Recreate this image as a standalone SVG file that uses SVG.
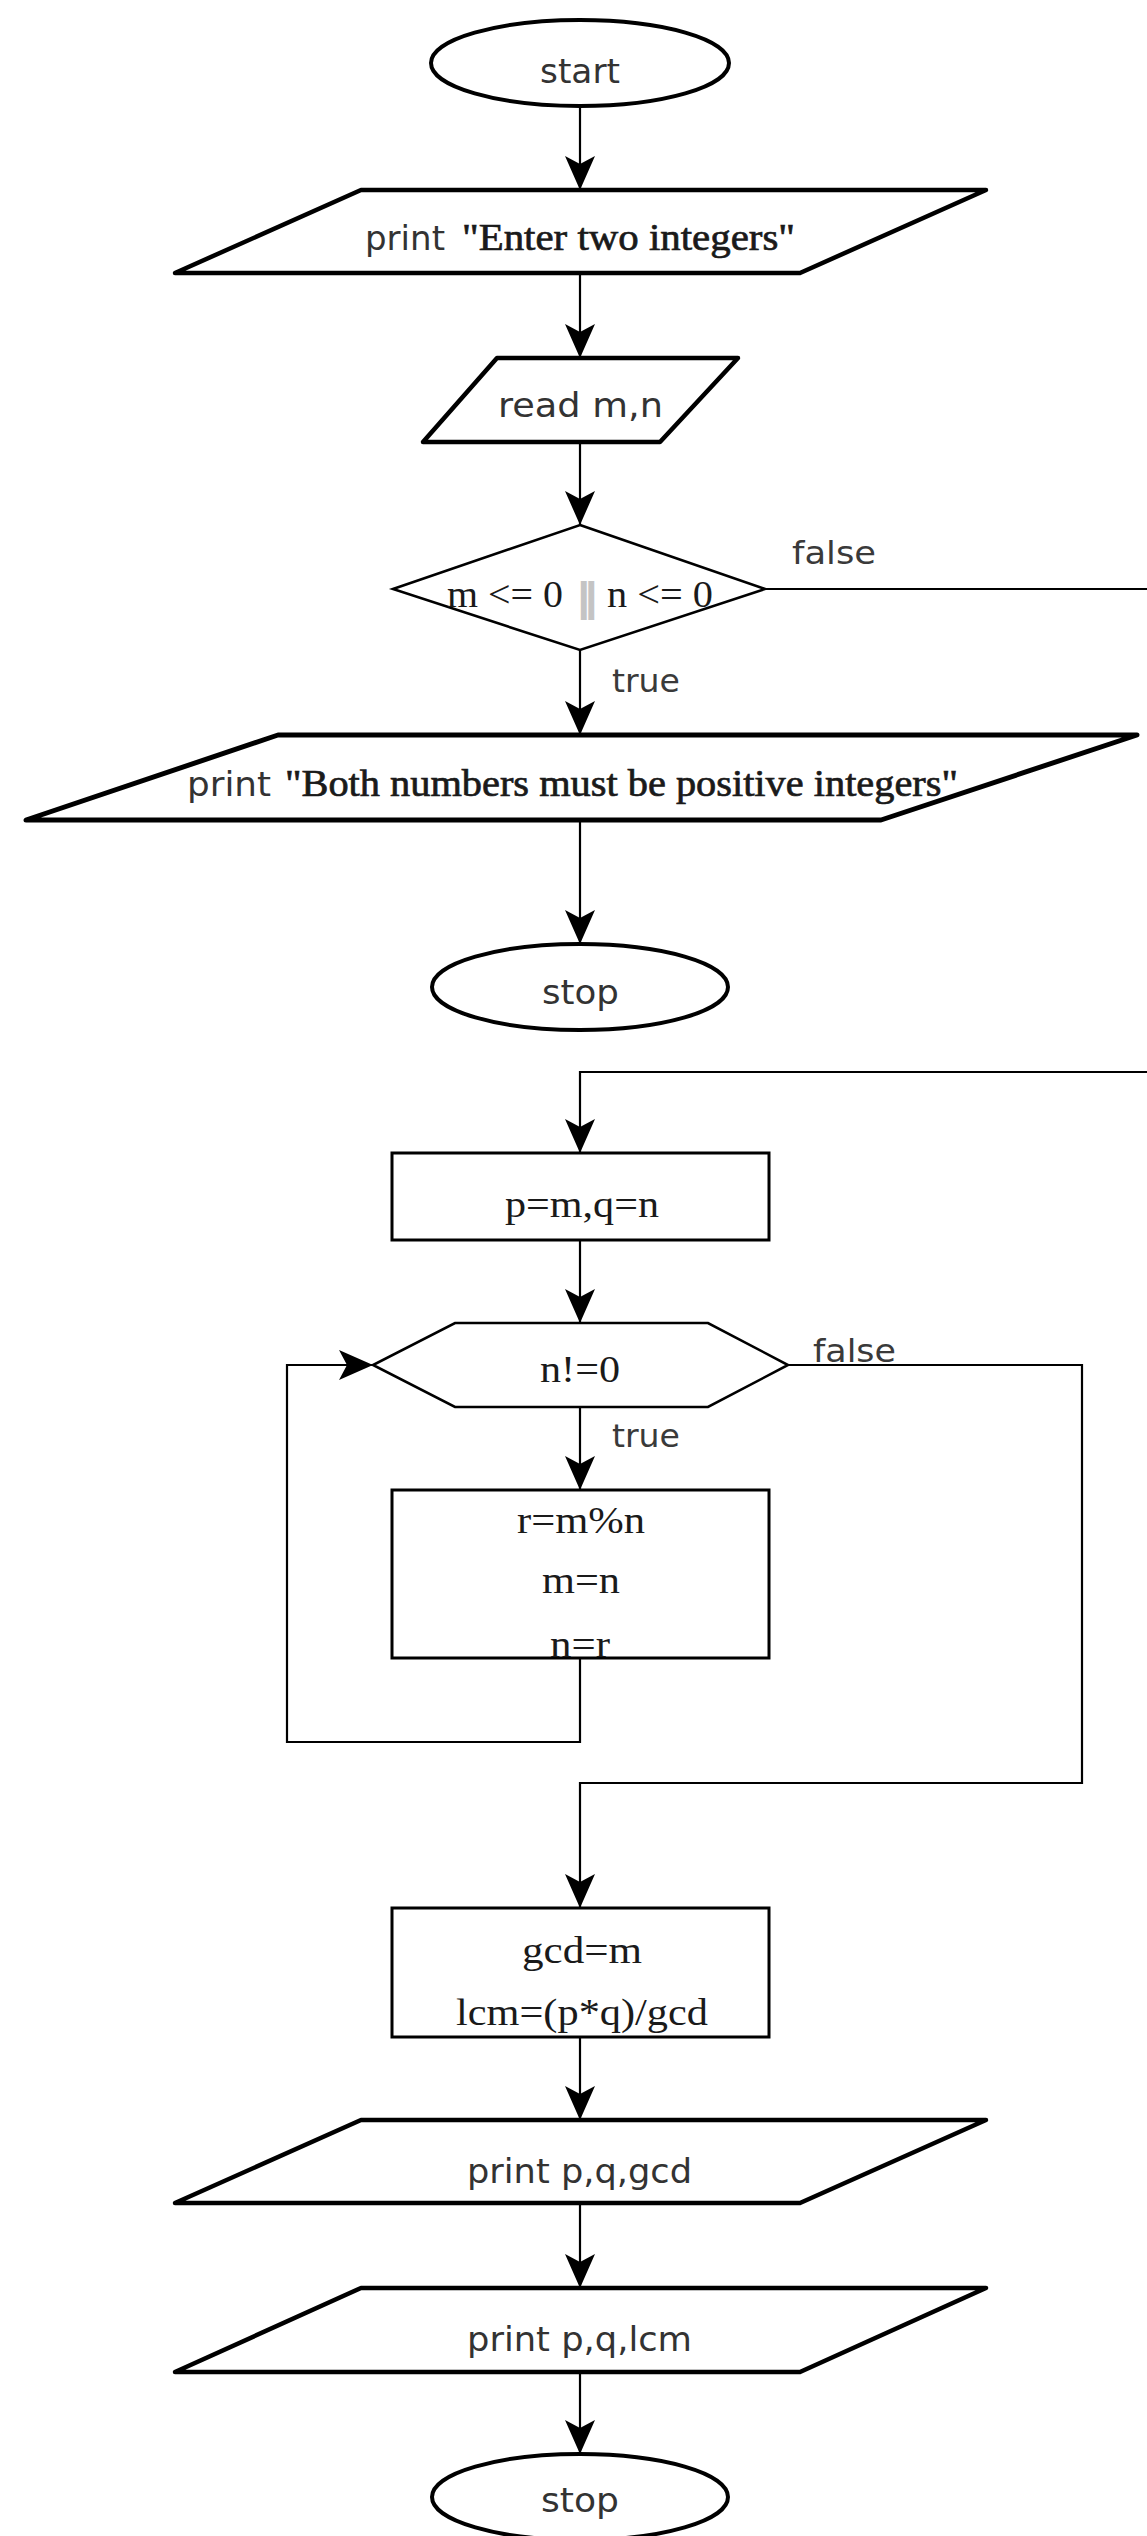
<svg xmlns="http://www.w3.org/2000/svg" width="1147" height="2536" viewBox="0 0 1147 2536">
  <style>
    .shape { fill: #fff; stroke: #000; }
    .term { stroke-width: 4; }
    .para { stroke-width: 4.5; stroke-linejoin: round; }
    .para-wide { stroke-width: 5; stroke-linejoin: round; }
    .box { stroke-width: 3; }
    .dec { stroke-width: 2.6; stroke-linejoin: miter; }
    .conn { fill: none; stroke: #000; stroke-width: 2.2; }
    .sans { font-family: "DejaVu Sans", "Liberation Sans", sans-serif; font-size: 34px; fill: #333; }
    .serif { font-family: "Liberation Serif", "DejaVu Serif", serif; font-size: 38px; fill: #1a1a1a; }
    .heavy { stroke: #1a1a1a; stroke-width: 0.7; }
    .lbl { font-family: "DejaVu Sans", "Liberation Sans", sans-serif; font-size: 32px; fill: #3a3a3a; }
    .bar { font-family: "Liberation Serif", serif; font-size: 38px; fill: #c4c4c4; stroke: #c4c4c4; stroke-width: 4; }
  </style>
  <defs>
    <marker id="arrow" viewBox="0 0 34 30" refX="34" refY="15" markerWidth="34" markerHeight="30" markerUnits="userSpaceOnUse" orient="auto">
      <path d="M0,0 L34,15 L0,30 L8,15 Z" fill="#000"/>
    </marker>
  </defs>

  <rect width="1147" height="2536" fill="#fff"/>

  <!-- connectors -->
  <g id="connectors">
    <path class="conn" d="M580,106 V190" marker-end="url(#arrow)"/>
    <path class="conn" d="M580,273 V358" marker-end="url(#arrow)"/>
    <path class="conn" d="M580,442 V525" marker-end="url(#arrow)"/>
    <path class="conn" d="M580,650 V735" marker-end="url(#arrow)"/>
    <path class="conn" d="M580,820 V944" marker-end="url(#arrow)"/>
    <path class="conn" d="M765,589 H1170 V1072 H580 V1153" marker-end="url(#arrow)"/>
    <path class="conn" d="M580,1240 V1323" marker-end="url(#arrow)"/>
    <path class="conn" d="M580,1407 V1490" marker-end="url(#arrow)"/>
    <path class="conn" d="M580,1658 V1742 H287 V1365 H373" marker-end="url(#arrow)"/>
    <path class="conn" d="M788,1365 H1082 V1783 H580 V1908" marker-end="url(#arrow)"/>
    <path class="conn" d="M580,2037 V2120" marker-end="url(#arrow)"/>
    <path class="conn" d="M580,2203 V2288" marker-end="url(#arrow)"/>
    <path class="conn" d="M580,2372 V2454" marker-end="url(#arrow)"/>
    <text class="lbl" x="792" y="564" textLength="84" lengthAdjust="spacingAndGlyphs">false</text>
    <text class="lbl" x="612" y="692" textLength="68" lengthAdjust="spacingAndGlyphs">true</text>
    <text class="lbl" x="813" y="1362" textLength="83" lengthAdjust="spacingAndGlyphs">false</text>
    <text class="lbl" x="612" y="1447" textLength="68" lengthAdjust="spacingAndGlyphs">true</text>
  </g>

  <!-- start terminal -->
  <g id="start">
    <ellipse class="shape term" cx="580" cy="63" rx="149" ry="43"/>
    <text class="sans" x="540" y="83" textLength="80" lengthAdjust="spacingAndGlyphs">start</text>
  </g>

  <!-- prompt output -->
  <g id="print-prompt">
    <polygon class="shape para" points="361,190 986,190 800,273 175,273"/>
    <text class="sans" x="365" y="250" textLength="80" lengthAdjust="spacingAndGlyphs">print</text>
    <text class="serif heavy" x="462" y="250" font-size="36" textLength="333" lengthAdjust="spacingAndGlyphs">"Enter two integers"</text>
  </g>

  <!-- input -->
  <g id="read-input">
    <polygon class="shape para" points="497,358 738,358 660,442 423,442"/>
    <text class="sans" x="498" y="417" textLength="165" lengthAdjust="spacingAndGlyphs">read m,n</text>
  </g>

  <!-- validity check -->
  <g id="check-positive">
    <polygon class="shape dec" points="580,525 765,589 580,650 393,589"/>
    <text class="serif" x="447" y="607" font-size="37" textLength="116" lengthAdjust="spacingAndGlyphs">m &lt;= 0</text>
    <text class="bar" x="580" y="610" textLength="15" lengthAdjust="spacingAndGlyphs">||</text>
    <text class="serif" x="607" y="607" font-size="37" textLength="106" lengthAdjust="spacingAndGlyphs">n &lt;= 0</text>
  </g>

  <!-- error output -->
  <g id="print-error">
    <polygon class="shape para-wide" points="278,735 1137,735 881,820 26,820"/>
    <text class="sans" x="187" y="796" textLength="84" lengthAdjust="spacingAndGlyphs">print</text>
    <text class="serif heavy" x="285" y="796" font-size="40" textLength="673" lengthAdjust="spacingAndGlyphs">"Both numbers must be positive integers"</text>
  </g>

  <!-- early stop -->
  <g id="stop-error">
    <ellipse class="shape term" cx="580" cy="987" rx="148" ry="43"/>
    <text class="sans" x="542" y="1004" textLength="77" lengthAdjust="spacingAndGlyphs">stop</text>
  </g>

  <!-- save originals -->
  <g id="save-inputs">
    <rect class="shape box" x="392" y="1153" width="377" height="87"/>
    <text class="serif" x="505" y="1217" textLength="154" lengthAdjust="spacingAndGlyphs">p=m,q=n</text>
  </g>

  <!-- loop condition -->
  <g id="loop-test">
    <polygon class="shape dec" points="455,1323 708,1323 788,1365 708,1407 455,1407 373,1365"/>
    <text class="serif" x="540" y="1382" textLength="80" lengthAdjust="spacingAndGlyphs">n!=0</text>
  </g>

  <!-- loop body -->
  <g id="euclid-step">
    <rect class="shape box" x="392" y="1490" width="377" height="168"/>
    <text class="serif" x="517" y="1533" textLength="128" lengthAdjust="spacingAndGlyphs">r=m%n</text>
    <text class="serif" x="542" y="1593" textLength="78" lengthAdjust="spacingAndGlyphs">m=n</text>
    <text class="serif" x="550" y="1657" textLength="60" lengthAdjust="spacingAndGlyphs">n=r</text>
  </g>

  <!-- results -->
  <g id="compute-results">
    <rect class="shape box" x="392" y="1908" width="377" height="129"/>
    <text class="serif" x="522" y="1963" textLength="120" lengthAdjust="spacingAndGlyphs">gcd=m</text>
    <text class="serif" x="456" y="2025" textLength="252" lengthAdjust="spacingAndGlyphs">lcm=(p*q)/gcd</text>
  </g>

  <g id="print-gcd">
    <polygon class="shape para" points="361,2120 986,2120 800,2203 175,2203"/>
    <text class="sans" x="467" y="2183" textLength="225" lengthAdjust="spacingAndGlyphs">print p,q,gcd</text>
  </g>

  <g id="print-lcm">
    <polygon class="shape para" points="361,2288 986,2288 800,2372 175,2372"/>
    <text class="sans" x="467" y="2351" textLength="225" lengthAdjust="spacingAndGlyphs">print p,q,lcm</text>
  </g>

  <g id="stop-end">
    <ellipse class="shape term" cx="580" cy="2497" rx="148" ry="43"/>
    <text class="sans" x="541" y="2512" textLength="78" lengthAdjust="spacingAndGlyphs">stop</text>
  </g>
</svg>
